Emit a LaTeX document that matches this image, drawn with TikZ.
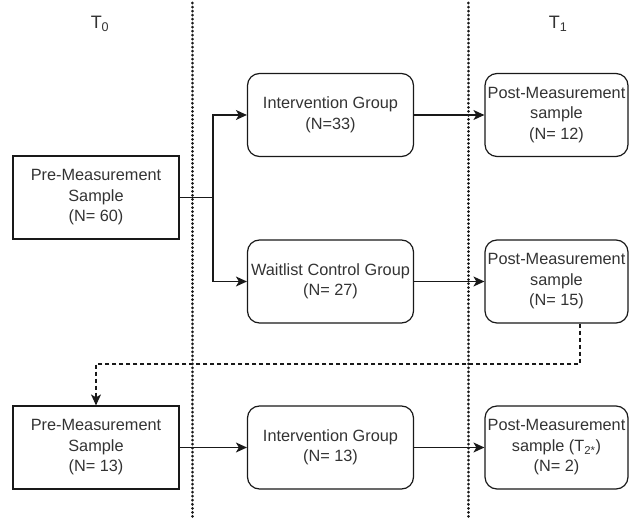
\documentclass[tikz,border=0pt]{standalone}
\usepackage{fontspec}
\setmainfont{Liberation Sans}
\usetikzlibrary{arrows.meta}
\begin{document}
\begin{tikzpicture}[x=1pt,y=-1pt,
  every node/.style={font=\fontsize{16.3}{20.5}\selectfont, align=center, text=black!80},
  box/.style={draw=black!90, line width=1.2pt, minimum width=166pt, minimum height=83pt, inner sep=0pt},
  rbox/.style={box, rounded corners=12pt},
  pbox/.style={rbox, minimum width=143pt},
  link/.style={draw=black!90, line width=1.2pt, -{Stealth[length=11pt,width=10pt,inset=3pt]}},
  plain/.style={draw=black!90, line width=1.2pt},
  dlink/.style={link, dash pattern=on 4pt off 3pt},
  divider/.style={draw=black!90, line width=3pt, line cap=round, dash pattern=on 0.01pt off 4pt},
  stage/.style={font=\fontsize{18}{20}\selectfont}
]
\useasboundingbox (0,0) rectangle (629,518);

% time-point dividers
\coordinate (d0top) at (192,3);
\coordinate (d0bot) at (192,517);
\coordinate (d1top) at (468,3);
\coordinate (d1bot) at (468,517);
\draw[divider] (d0top) -- (d0bot);
\draw[divider] (d1top) -- (d1bot);

% time-point labels
\node[stage] (t0) at (100,24) {T\textsubscript{0}};
\node[stage] (t1) at (558,24) {T\textsubscript{1}};

% first wave
\node[box]  (pre1)  at (96,197.5)   {Pre-Measurement\\Sample\\(N= 60)};
\node[rbox] (ig1)   at (330.5,115)  {Intervention Group\\(N=33)};
\node[rbox] (wl)    at (330.5,281.5){Waitlist Control Group\\(N= 27)};
\node[pbox] (post1) at (556.5,115)  {Post-Measurement\\sample\\(N= 12)};
\node[pbox] (post2) at (556.5,281.5){Post-Measurement\\sample\\(N= 15)};

% second wave
\node[box]  (pre2)  at (96,447.5)   {Pre-Measurement\\Sample\\(N= 13)};
\node[rbox] (ig2)   at (330.5,447.5){Intervention Group\\(N= 13)};
\node[pbox] (post3) at (556.5,447.5){Post-Measurement\\sample (T\textsubscript{2*})\\(N= 2)};

% randomisation split
\coordinate (split) at (213,197.5);
\draw[plain] (pre1.east) -- (split);
\draw[link] (split) |- (ig1.west);
\draw[link] (split) |- (wl.west);

\draw[link] (ig1.east) -- (post1.west);
\draw[link] (wl.east) -- (post2.west);

% waitlist group moves on to the intervention
\coordinate (turn) at (580,364);
\draw[dlink] (turn |- post2.south) -- (turn) -| (pre2.north);

\draw[link] (pre2.east) -- (ig2.west);
\draw[link] (ig2.east) -- (post3.west);
\end{tikzpicture}
\end{document}
